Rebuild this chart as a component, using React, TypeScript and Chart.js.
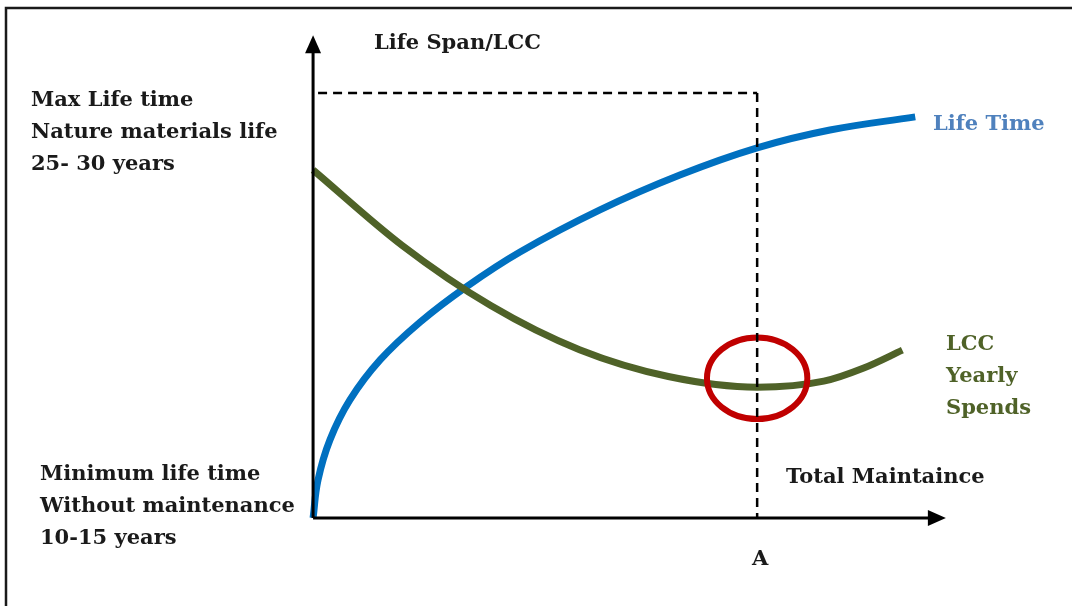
import React, { useEffect, useRef } from "react";
import { Chart, registerables } from "chart.js";

Chart.register(...registerables);

// Life Time curve (x: total maintenance, y: life span)
const lifeX = [0, 0.11, 0.38, 0.83, 1.51, 2.41, 3.45, 4.66, 6.46, 8.26, 10, 11.64, 13.56];
const lifeY = [0, 0.89, 1.84, 2.78, 3.72, 4.61, 5.44, 6.26, 7.25, 8.07, 8.71, 9.13, 9.44];

// LCC yearly spends curve
const lccX = [0, 2, 4, 6, 8, 10, 11.5, 12.4, 13.27];
const lccY = [8.19, 6.42, 5.0, 3.96, 3.33, 3.08, 3.22, 3.53, 3.95];

// Reference levels
const maxLife = 10; // max life time level (dashed horizontal)
const pointA = 10; // optimum total maintenance "A"
const optimum = { x: 10, y: 3.29, rx: 1.13, ry: 0.96 };
const yAxisTop = 11.36;
const xAxisEnd = 14.25;

const xMin = -7.05;
const xMax = 17.09;
const yMin = -2.07;
const yMax = 12.19;

const FONT = "bold 21px 'DejaVu Serif', serif";

const decor = {
  id: "decor",
  afterDatasetsDraw(chart: any) {
    const ctx = chart.ctx as CanvasRenderingContext2D;
    const xs = chart.scales.x;
    const ys = chart.scales.y;
    const px = (v: number) => xs.getPixelForValue(v);
    const py = (v: number) => ys.getPixelForValue(v);
    ctx.save();

    // border frame
    ctx.strokeStyle = "#1a1a1a";
    ctx.lineWidth = 2.5;
    ctx.strokeRect(6, 8, 1100, 700);

    // red circle
    ctx.strokeStyle = "#c00000";
    ctx.lineWidth = 6;
    ctx.beginPath();
    ctx.ellipse(
      px(optimum.x),
      py(optimum.y),
      Math.abs(px(optimum.x + optimum.rx) - px(optimum.x)),
      Math.abs(py(optimum.y + optimum.ry) - py(optimum.y)),
      0,
      0,
      Math.PI * 2
    );
    ctx.stroke();

    // dashed lines
    ctx.strokeStyle = "#000";
    ctx.lineWidth = 2.5;
    ctx.setLineDash([9, 6]);
    ctx.beginPath();
    ctx.moveTo(px(0) + 5, py(maxLife));
    ctx.lineTo(px(pointA), py(maxLife));
    ctx.moveTo(px(pointA), py(maxLife));
    ctx.lineTo(px(pointA), py(0));
    ctx.stroke();
    ctx.setLineDash([]);

    // axes
    ctx.lineWidth = 3;
    ctx.beginPath();
    ctx.moveTo(px(0), py(0));
    ctx.lineTo(px(0), py(yAxisTop) + 14);
    ctx.moveTo(px(0), py(0));
    ctx.lineTo(px(xAxisEnd) - 14, py(0));
    ctx.stroke();
    ctx.fillStyle = "#000";
    // arrow heads
    ctx.beginPath();
    ctx.moveTo(px(0), py(yAxisTop));
    ctx.lineTo(px(0) - 8, py(yAxisTop) + 18);
    ctx.lineTo(px(0) + 8, py(yAxisTop) + 18);
    ctx.closePath();
    ctx.fill();
    ctx.beginPath();
    ctx.moveTo(px(xAxisEnd), py(0));
    ctx.lineTo(px(xAxisEnd) - 18, py(0) - 8);
    ctx.lineTo(px(xAxisEnd) - 18, py(0) + 8);
    ctx.closePath();
    ctx.fill();

    // texts
    ctx.font = FONT;
    ctx.textBaseline = "middle";
    ctx.textAlign = "left";
    const t = (s: string, x: number, y: number, c: string) => {
      ctx.fillStyle = c;
      ctx.fillText(s, x, y);
    };
    t("Life Span/LCC", 374, 44, "#1a1a1a");
    t("Max Life time", 31, 101, "#1a1a1a");
    t("Nature materials life", 31, 133, "#1a1a1a");
    t("25- 30 years", 31, 165, "#1a1a1a");
    t("Minimum life time", 40, 475, "#1a1a1a");
    t("Without maintenance", 40, 507, "#1a1a1a");
    t("10-15 years", 40, 539, "#1a1a1a");
    t("Total Maintaince", 786, 478, "#1a1a1a");
    t("A", 752, 560, "#1a1a1a");
    t("Life Time", 933, 125, "#4f81bd");
    t("LCC", 946, 345, "#4f6228");
    t("Yearly", 946, 377, "#4f6228");
    t("Spends", 946, 409, "#4f6228");
    ctx.restore();
  },
};

export default function App() {
  const ref = useRef<HTMLCanvasElement>(null);
  useEffect(() => {
    if (!ref.current) return;
    const chart = new Chart(ref.current, {
      type: "line",
      data: {
        datasets: [
          {
            label: "LCC Yearly Spends",
            data: lccX.map((x, i) => ({ x, y: lccY[i] })),
            borderColor: "#4f6228",
            borderWidth: 7,
            borderCapStyle: "butt",
            pointRadius: 0,
            cubicInterpolationMode: "monotone",
            fill: false,
          },
          {
            label: "Life Time",
            data: lifeX.map((x, i) => ({ x, y: lifeY[i] })),
            borderColor: "#0070c0",
            borderWidth: 7,
            borderCapStyle: "butt",
            pointRadius: 0,
            tension: 0.4,
            fill: false,
          },
        ],
      },
      options: {
        animation: false,
        responsive: true,
        maintainAspectRatio: false,
        layout: { padding: 0 },
        plugins: { legend: { display: false }, tooltip: { enabled: false } },
        scales: {
          x: { type: "linear", display: false, min: xMin, max: xMax },
          y: { type: "linear", display: false, min: yMin, max: yMax },
        },
      },
      plugins: [decor],
    });
    return () => chart.destroy();
  }, []);
  return (
    <div style={{ position: "absolute", left: 0, top: 0, width: 1072, height: 606, background: "#fff", overflow: "hidden" }}>
      <canvas ref={ref} />
    </div>
  );
}
